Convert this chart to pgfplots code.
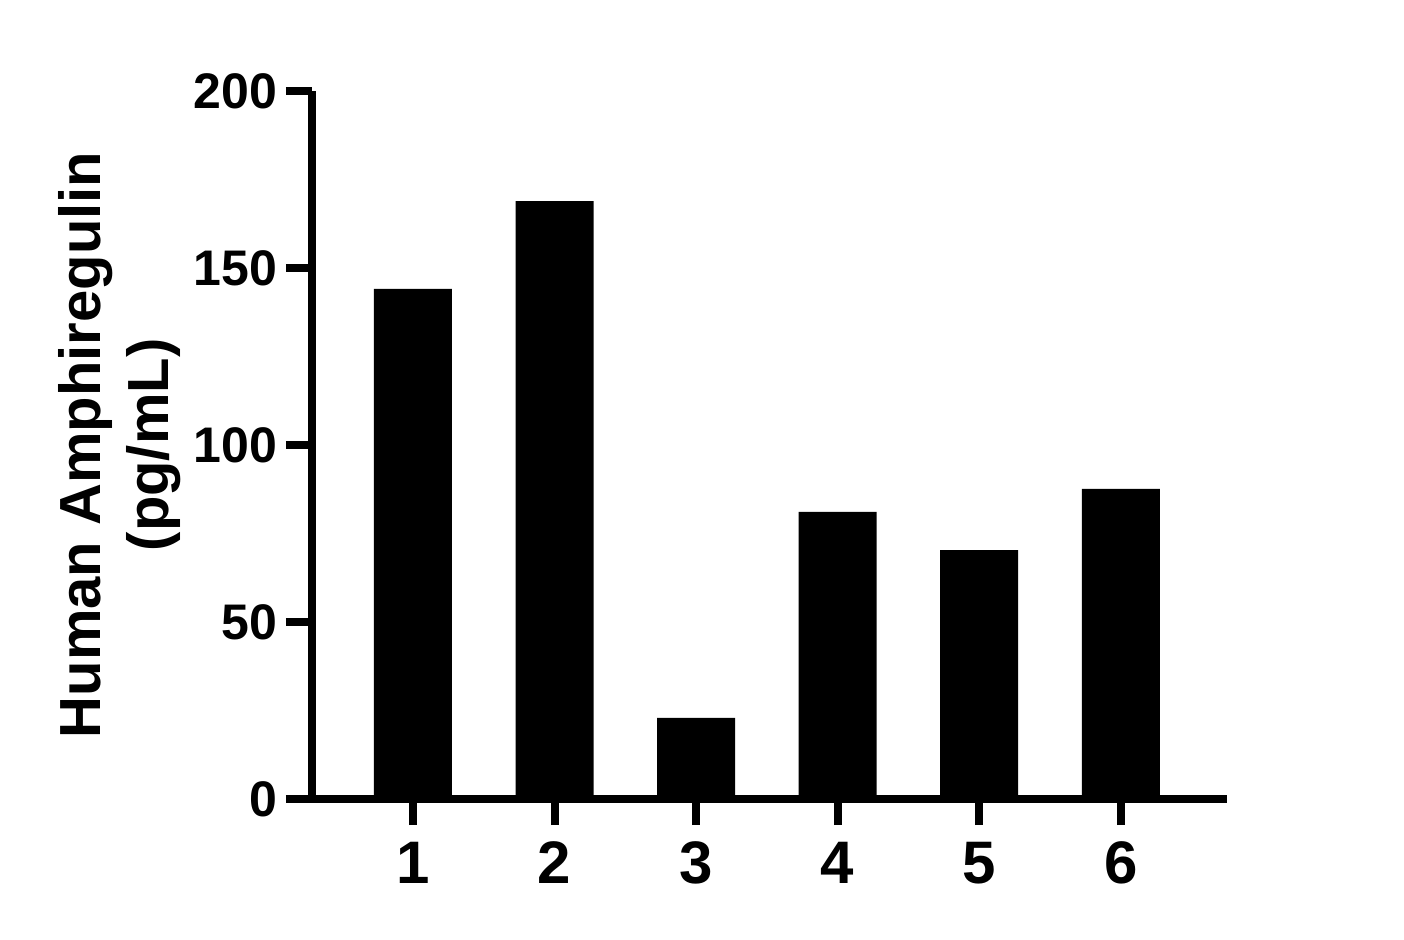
\documentclass[border=0pt]{standalone}
\usepackage{pgfplots}
\pgfplotsset{compat=1.18}
\usepackage{fontspec}
\setmainfont{Liberation Sans}

\begin{document}
\begin{tikzpicture}
% page size: 1px = 0.5pt, axis origin at pixel (312,799)
\path[use as bounding box] (-156pt,-70pt) rectangle (546pt,399.5pt);
\begin{axis}[
    at={(0,0)}, anchor=south west,
    scale only axis,
    width=457.5pt, height=354pt,
    xmin=0.287, xmax=6.75,
    ymin=0, ymax=200,
    axis lines=left,
    axis line style={line width=4pt, -},
    xtick={1,2,3,4,5,6},
    ytick={0,50,100,150,200},
    tick align=outside,
    major tick length=13pt,
    tick style={line width=4pt, black},
    x tick label style={font=\bfseries\fontsize{30}{30}\selectfont, yshift=-5pt},
    y tick label style={font=\bfseries\fontsize{25}{25}\selectfont, xshift=-1pt},
    /pgf/number format/assume math mode=true,
    ylabel={Human Amphiregulin\\(pg/mL)},
    ylabel style={font=\bfseries\fontsize{29}{34}\selectfont, align=center,
        at={(axis description cs:-0.21,0.5)}, anchor=center, rotate=0},
    ybar, bar width=39pt,
    clip=false,
]
\addplot[draw=none, fill=black] coordinates {
    (1,144.1) (2,168.9) (3,22.9) (4,81.1) (5,70.3) (6,87.6)
};
\end{axis}
\end{tikzpicture}
\end{document}
